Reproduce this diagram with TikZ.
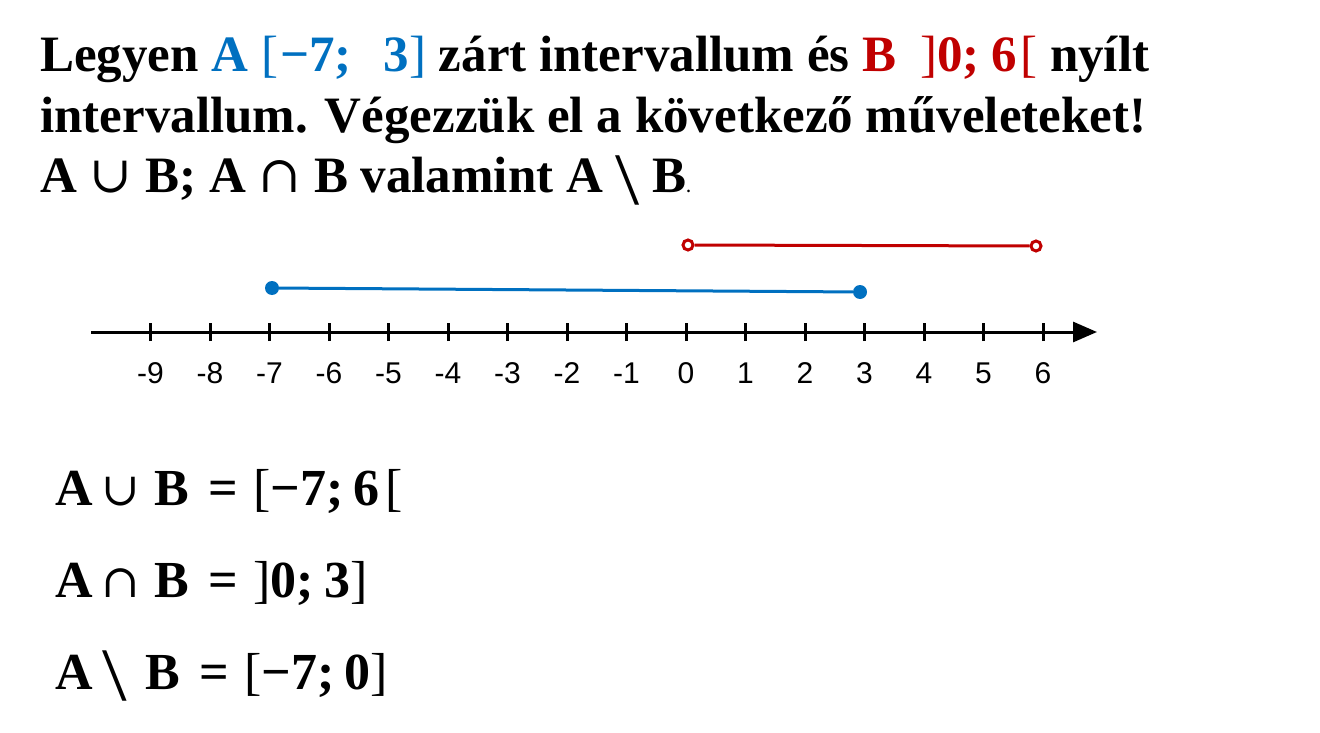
\documentclass[tikz,border=0pt]{standalone}
\usepackage{fontspec}
\usepackage{graphicx}
\setmainfont{Liberation Serif}
\newfontfamily\labfont{Liberation Sans}
\newfontfamily\symfont{DejaVu Serif}
\usetikzlibrary{arrows.meta}
\definecolor{ablue}{HTML}{0070C0}
\definecolor{bred}{HTML}{C00000}
\tikzset{
  txt/.style={anchor=base west, inner sep=0pt, font=\fontsize{51}{56}\selectfont\bfseries},
  res/.style={anchor=base west, inner sep=0pt, font=\fontsize{52}{58}\selectfont\bfseries},
  lab/.style={anchor=base, inner sep=0pt, font=\fontsize{30}{34}\selectfont\labfont},
  tick/.style={line width=3pt, black},
  axis/.style={line width=3pt, black, -{Triangle[length=24pt,width=20pt]}},
  aseg/.style={line width=3pt, ablue},
  bseg/.style={line width=3pt, bred},
  closeddot/.style={circle, fill=ablue, inner sep=0pt, minimum size=14pt},
  opendot/.style={circle, draw=bred, fill=white, line width=3pt, inner sep=0pt, minimum size=10pt},
}
\newcommand{\cupS}{{\symfont\mdseries ∪}}
\newcommand{\capS}{{\symfont\mdseries ∩}}
\newcommand{\cupR}{{\fontsize{46}{50}\selectfont\symfont\mdseries ∪}}
\newcommand{\capR}{{\fontsize{46}{50}\selectfont\symfont\mdseries ∩}}
\newcommand{\bsl}{\raisebox{-0.22em}{\scalebox{1.7}[1.45]{\mdseries\textbackslash}}}
\newcommand{\lb}{{\mdseries[}}
\newcommand{\rb}{{\mdseries]}}
\begin{document}
\begin{tikzpicture}[x=1pt,y=-1pt]
\useasboundingbox (0,0) rectangle (1320,733);
% heading
\node[txt] (l1) at (40,72) {Legyen \textcolor{ablue}{A \lb\hspace{2pt}−7;\hspace{32pt}3\rb} zárt intervallum és \textcolor{bred}{B\hspace{24pt}\rb0;\hspace{12pt}6\hspace{3pt}\lb} nyílt};
\node[txt] (l2) at (40,132) {intervallum. Végezzük el a következő műveleteket!};
\node[txt] (l3) at (40,193) {A \cupS\ B; A \capS\ B valamint A \bsl\ B{\fontsize{16}{18}\selectfont.}};
% axis
\coordinate (axs) at (91,332);
\coordinate (axe) at (1097,332);
\draw[axis] (axs) -- (axe);
\foreach \n in {-9,...,6}{
  \coordinate (t\n) at ({686+59.5*\n},332);
  \draw[tick] ([yshift=-9pt]t\n) -- ([yshift=9pt]t\n);
  \node[lab] (n\n) at ([yshift=-51pt]t\n) {\n};
}
% interval A
\node[closeddot] (a1) at (272,288) {};
\node[closeddot] (a2) at (860,292) {};
\draw[aseg] (a1) -- (a2);
% interval B
\node[opendot] (b1) at (688,245) {};
\node[opendot] (b2) at (1036,246) {};
\draw[bseg] (b1) -- (b2);
% results
\node[res] (r1) at (55,505) {A\hspace{9pt}\cupR\hspace{14pt}B\hspace{20pt}=\hspace{15pt}\lb−7;\hspace{10pt}6\hspace{6pt}\lb};
\node[res] (r2) at (55,597) {A\hspace{9pt}\capR\hspace{14pt}B\hspace{20pt}=\hspace{15pt}\rb0;\hspace{10pt}3\rb};
\node[res] (r3) at (55,689) {A\hspace{10pt}\bsl\hspace{18pt}B\hspace{20pt}=\hspace{15pt}\lb−7;\hspace{10pt}0\rb};
\end{tikzpicture}
\end{document}
